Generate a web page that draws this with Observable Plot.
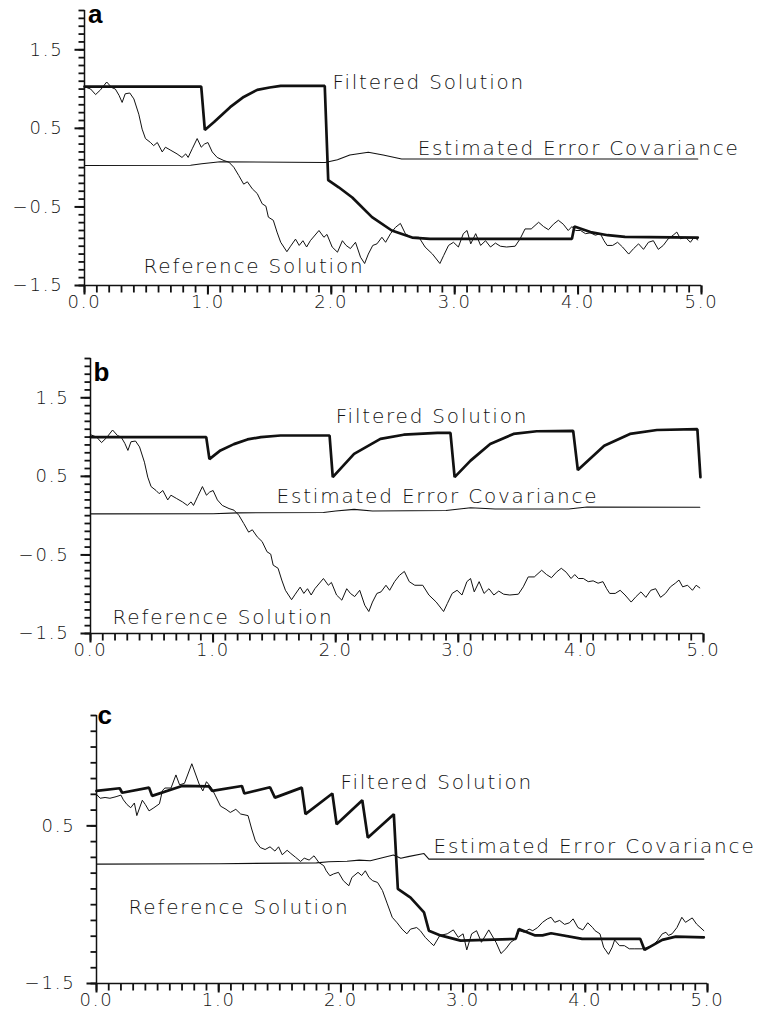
<!DOCTYPE html>
<html>
<head>
<meta charset="utf-8">
<script src="https://cdn.jsdelivr.net/npm/d3@7"></script>
<script src="https://cdn.jsdelivr.net/npm/@observablehq/plot@0.6"></script>
<style>
  html, body { margin: 0; padding: 0; background: #fff; }
  #page { position: relative; width: 759px; height: 1016px; }
  .panel { position: absolute; left: 0; }
  .panel svg { font-family: "DejaVu Sans", sans-serif; font-weight: 200; letter-spacing: 1.8px; }
</style>
</head>
<body>
<div id="page">
  <div class="panel" id="pa" style="top:0px"></div>
  <div class="panel" id="pb" style="top:348px"></div>
  <div class="panel" id="pc" style="top:705px"></div>
</div>
<script>
// Reference solution shared by panels a and b: [t, value]
const referenceAB = [
  [0,1.03],[0.05,1.0],[0.09,0.93],[0.13,0.99],[0.18,1.09],[0.22,1.02],[0.25,1.0],[0.28,0.92],
  [0.305,0.83],[0.33,0.94],[0.367,0.95],[0.40,0.875],[0.44,0.68],[0.467,0.49],[0.494,0.37],
  [0.535,0.32],[0.56,0.28],[0.59,0.32],[0.63,0.2],[0.656,0.26],[0.70,0.22],[0.75,0.175],
  [0.79,0.13],[0.82,0.175],[0.84,0.13],[0.873,0.24],[0.913,0.37],[0.946,0.26],[0.972,0.30],
  [1.0,0.32],[1.035,0.2],[1.075,0.13],[1.13,0.09],[1.17,0.07],[1.21,0.005],[1.25,-0.10],
  [1.29,-0.21],[1.32,-0.18],[1.36,-0.27],[1.40,-0.33],[1.44,-0.46],[1.47,-0.49],[1.49,-0.63],
  [1.53,-0.67],[1.56,-0.82],[1.59,-0.95],[1.64,-1.07],[1.67,-1.0],[1.71,-0.91],[1.74,-0.99],
  [1.77,-0.93],[1.80,-1.01],[1.83,-0.93],[1.90,-0.80],[1.94,-0.886],[1.965,-0.85],[2.007,-1.01],
  [2.05,-1.076],[2.09,-0.93],[2.12,-0.99],[2.155,-1.03],[2.196,-0.95],[2.237,-1.14],[2.27,-1.22],
  [2.30,-1.10],[2.336,-0.99],[2.37,-0.97],[2.41,-0.886],[2.44,-0.95],[2.48,-0.84],[2.52,-0.76],
  [2.56,-0.71],[2.60,-0.84],[2.645,-0.886],[2.71,-0.886],[2.76,-1.01],[2.82,-1.10],[2.88,-1.22],
  [2.91,-1.12],[2.95,-0.99],[2.99,-0.95],[3.03,-1.01],[3.07,-0.84],[3.10,-0.80],[3.13,-0.97],
  [3.17,-0.84],[3.21,-0.99],[3.25,-0.93],[3.29,-1.01],[3.33,-0.96],[3.37,-1.0],[3.42,-1.01],
  [3.49,-1.0],[3.53,-0.906],[3.57,-0.78],[3.62,-0.78],[3.68,-0.695],[3.72,-0.75],[3.76,-0.79],
  [3.80,-0.72],[3.84,-0.67],[3.88,-0.72],[3.92,-0.80],[3.95,-0.75],[3.98,-0.80],[4.02,-0.80],
  [4.06,-0.84],[4.10,-0.83],[4.14,-0.86],[4.18,-0.84],[4.21,-0.93],[4.235,-0.99],[4.28,-0.99],
  [4.32,-0.95],[4.36,-1.01],[4.41,-1.10],[4.45,-1.03],[4.49,-0.97],[4.53,-1.04],[4.57,-0.95],
  [4.61,-0.93],[4.65,-1.04],[4.69,-0.99],[4.73,-0.906],[4.77,-0.86],[4.80,-0.82],[4.83,-0.906],
  [4.87,-0.886],[4.91,-0.95],[4.94,-0.886],[4.97,-0.92]
];

const filteredA = [
  [0,1.03],[0.946,1.03],[0.975,0.48],[1.05,0.58],[1.18,0.77],[1.29,0.90],[1.40,0.99],[1.50,1.02],
  [1.59,1.04],[1.947,1.04],[1.975,-0.16],[2.06,-0.25],[2.17,-0.38],[2.33,-0.63],[2.49,-0.80],
  [2.655,-0.89],[2.8,-0.906],[3.95,-0.906],[3.97,-0.75],[4.10,-0.82],[4.24,-0.86],[4.38,-0.88],
  [4.97,-0.89]
];
const covarianceA = [
  [0,0.027],[0.86,0.03],[0.95,0.05],[1.10,0.075],[1.95,0.065],[2.05,0.10],[2.15,0.16],[2.30,0.196],
  [2.42,0.16],[2.57,0.11],[2.7,0.11],[4.97,0.11]
];

const filteredB = [
  [0,1.0],[0.944,1.0],[0.97,0.72],[1.06,0.83],[1.17,0.91],[1.28,0.97],[1.39,1.0],[1.55,1.02],
  [1.95,1.02],[1.976,0.49],[2.15,0.786],[2.365,0.977],[2.555,1.03],[2.83,1.053],[2.936,1.053],
  [2.97,0.49],[3.10,0.70],[3.26,0.913],[3.45,1.04],[3.64,1.074],[3.937,1.08],[3.975,0.58],
  [4.19,0.89],[4.40,1.04],[4.62,1.09],[4.95,1.10],[4.975,0.49]
];
const covarianceB = [
  [0,0.023],[1.0,0.025],[1.2,0.035],[1.9,0.04],[2.0,0.06],[2.15,0.08],[2.3,0.06],[2.9,0.065],
  [3.1,0.10],[3.3,0.085],[3.9,0.085],[4.05,0.11],[4.97,0.107]
];

const referenceC = [
  [0,0.90],[0.03,0.85],[0.07,0.86],[0.11,0.85],[0.16,0.87],[0.20,0.89],[0.22,0.83],[0.25,0.77],
  [0.28,0.73],[0.31,0.79],[0.33,0.63],[0.375,0.825],[0.40,0.77],[0.43,0.69],[0.47,0.73],
  [0.515,0.78],[0.54,0.95],[0.56,0.98],[0.61,0.98],[0.65,1.146],[0.68,1.02],[0.72,1.04],
  [0.78,1.288],[0.84,1.03],[0.87,0.943],[0.90,1.06],[0.94,0.985],[0.974,0.88],[1.015,0.75],
  [1.06,0.71],[1.095,0.67],[1.14,0.71],[1.18,0.65],[1.24,0.63],[1.27,0.46],[1.30,0.31],
  [1.34,0.225],[1.38,0.20],[1.42,0.234],[1.46,0.18],[1.49,0.234],[1.52,0.133],[1.56,0.19],
  [1.59,0.15],[1.63,0.10],[1.67,0.048],[1.70,0.09],[1.74,0.066],[1.78,0.12],[1.82,0.035],
  [1.86,-0.006],[1.88,-0.07],[1.91,-0.133],[1.94,-0.11],[1.98,-0.09],[2.02,-0.196],[2.065,-0.26],
  [2.09,-0.155],[2.14,-0.09],[2.17,-0.13],[2.20,-0.07],[2.23,-0.155],[2.26,-0.196],[2.30,-0.218],
  [2.34,-0.32],[2.38,-0.49],[2.42,-0.66],[2.46,-0.73],[2.50,-0.81],[2.54,-0.87],[2.57,-0.81],
  [2.62,-0.79],[2.65,-0.83],[2.69,-0.914],[2.73,-0.977],[2.76,-1.02],[2.81,-0.89],[2.87,-0.87],
  [2.92,-0.82],[2.96,-0.914],[3.00,-0.87],[3.03,-1.074],[3.07,-0.87],[3.11,-0.83],[3.15,-0.977],
  [3.21,-0.82],[3.27,-0.98],[3.31,-1.12],[3.35,-1.06],[3.39,-0.977],[3.43,-0.934],[3.46,-0.83],
  [3.50,-0.85],[3.54,-0.81],[3.57,-0.83],[3.61,-0.79],[3.65,-0.724],[3.69,-0.68],[3.72,-0.66],
  [3.75,-0.724],[3.79,-0.70],[3.83,-0.75],[3.87,-0.73],[3.90,-0.68],[3.94,-0.79],[3.98,-0.82],
  [4.02,-0.73],[4.06,-0.79],[4.08,-0.83],[4.12,-0.87],[4.15,-1.04],[4.19,-1.13],[4.22,-1.04],
  [4.24,-0.947],[4.28,-1.02],[4.32,-1.02],[4.36,-1.06],[4.40,-1.06],[4.465,-1.06],[4.49,-1.05],
  [4.55,-1.02],[4.59,-0.956],[4.63,-0.87],[4.66,-0.85],[4.68,-0.89],[4.71,-0.87],[4.75,-0.79],
  [4.79,-0.66],[4.82,-0.724],[4.875,-0.668],[4.91,-0.745],[4.97,-0.83]
];
const filteredC = [
  [0,0.943],[0.19,0.977],[0.21,0.92],[0.43,0.985],[0.455,0.88],[0.70,1.006],[0.92,1.0],
  [0.947,0.943],[1.19,1.006],[1.21,0.91],[1.42,0.99],[1.46,0.858],[1.68,0.985],[1.71,0.648],
  [1.93,0.91],[1.965,0.52],[2.175,0.825],[2.22,0.35],[2.433,0.648],[2.466,-0.30],[2.57,-0.41],
  [2.68,-0.597],[2.72,-0.83],[2.815,-0.89],[2.98,-0.956],[3.43,-0.934],[3.456,-0.81],[3.59,-0.89],
  [3.65,-0.89],[3.72,-0.863],[3.975,-0.934],[4.45,-0.934],[4.485,-1.074],[4.63,-0.947],
  [4.74,-0.905],[4.97,-0.914]
];
const covarianceC = [
  [0,0.015],[1.0,0.02],[1.8,0.03],[1.9,0.044],[2.05,0.05],[2.15,0.065],[2.24,0.057],[2.43,0.13],
  [2.49,0.09],[2.55,0.11],[2.68,0.149],[2.72,0.078],[4.97,0.078]
];

// Axis labels and annotation texts
const xTickValues = [0, 1, 2, 3, 4, 5];
const yTickValuesAB = [-1.5, -0.5, 0.5, 1.5];
const yTickValuesC = [-1.5, 0.5];
const seriesNames = ["Filtered Solution", "Estimated Error Covariance", "Reference Solution"];
const panelLetters = ["a", "b", "c"];

const fmt = d3.format(".1f");
const xMinor = d3.range(0, 51).map(i => i / 10);

// Tick marks: short links hanging below the time axis and left of the value axis.
function tickMarks({yMin, perX, perY, yMinor, yMajor, ink}) {
  const xt = [[xMinor, 7, 1.8], [xTickValues, 9, 2]];
  const yt = [[yMinor, 6, 1.8], [yMajor, 10, 2]];
  return [
    ...xt.map(([v, len, w]) => Plot.link(v, {x1: d => d, x2: d => d, y1: yMin, y2: yMin - len * perY,
      stroke: ink, strokeWidth: w})),
    ...yt.map(([v, len, w]) => Plot.link(v, {x1: 0, x2: -len * perX, y1: d => d, y2: d => d,
      stroke: ink, strokeWidth: w}))
  ];
}

function panel({letter, letterAt, reference, filtered, covariance, yTop, yMinor, yMajor,
                labelAt, left, right, plotHeight}) {
  const bottom = 34;
  const width = 759;
  const yMin = -1.5;
  const padX = 11, padY = 10;         // room kept inside the frame for the tick marks
  const perX = 5 / (width - left - right);
  const perY = (yTop - yMin) / plotHeight;
  const x0 = -padX * perX;
  const y0 = yMin - padY * perY;
  const names = seriesNames.map((name, i) => ({name, x: labelAt[i][0], y: labelAt[i][1]}));
  const ink = "#111";
  return Plot.plot({
    width,
    height: 10 + plotHeight + bottom,
    marginTop: 10,
    marginBottom: bottom - padY,
    marginLeft: left - padX,
    marginRight: right,
    x: {domain: [x0, 5], label: null},
    y: {domain: [y0, yTop], label: null},
    style: {background: "#fff", color: ink, overflow: "visible"},
    marks: [
      Plot.axisX({ticks: xTickValues, tickSize: 0, tickPadding: 0, tickFormat: fmt, fontSize: 18, label: null}),
      Plot.axisY({ticks: yMajor, tickSize: 0, tickPadding: 21 - padX, tickFormat: fmt, fontSize: 18, label: null}),
      Plot.line(covariance, {x: d => d[0], y: d => d[1], stroke: ink, strokeWidth: 1.1}),
      Plot.line(reference, {x: d => d[0], y: d => d[1], stroke: ink, strokeWidth: 1}),
      Plot.line(filtered, {x: d => d[0], y: d => d[1], stroke: ink, strokeWidth: 2.7,
                           strokeLinejoin: "miter"}),
      ...tickMarks({yMin, perX, perY, yMinor, yMajor, ink}),
      Plot.ruleX([0], {y1: yMin, y2: yTop, stroke: ink, strokeWidth: 1.5}),
      Plot.ruleY([yMin], {x1: 0, x2: 5, stroke: ink, strokeWidth: 1.5}),
      Plot.text(names, {x: "x", y: "y", text: "name", textAnchor: "start", lineAnchor: "bottom",
                        fontSize: 20, fill: ink}),
      Plot.text([letter], {x: letterAt[0], y: letterAt[1], text: d => d, textAnchor: "start",
                           lineAnchor: "bottom", fontSize: 26, fontWeight: "bold",
                           fontFamily: "Liberation Sans", fill: "#000"})
    ]
  });
}

const yMinorAB = d3.range(0, 36).map(i => -1.5 + i * 0.1);
const yMinorC = d3.range(0, 18).map(i => -1.5 + i * 0.2);

document.getElementById("pa").append(panel({
  letter: panelLetters[0], letterAt: [0.028, 1.84],
  reference: referenceAB, filtered: filteredA, covariance: covarianceA,
  yTop: 2.0, yMinor: yMinorAB, yMajor: yTickValuesAB,
  labelAt: [[2.01, 1.006], [2.70, 0.167], [0.478, -1.335]],
  left: 84, right: 58, plotHeight: 275
}));

document.getElementById("pb").append(panel({
  letter: panelLetters[1], letterAt: [0.024, 1.72],
  reference: referenceAB, filtered: filteredB, covariance: covarianceB,
  yTop: 2.0, yMinor: yMinorAB, yMajor: yTickValuesAB,
  labelAt: [[2.0, 1.184], [1.517, 0.167], [0.18, -1.373]],
  left: 90, right: 56, plotHeight: 275
}));

document.getElementById("pc").append(panel({
  letter: panelLetters[2], letterAt: [0.008, 1.79],
  reference: referenceC, filtered: filteredC, covariance: covarianceC,
  yTop: 1.9, yMinor: yMinorC, yMajor: yTickValuesC,
  labelAt: [[1.997, 0.968], [2.758, 0.158], [0.262, -0.614]],
  left: 96, right: 52, plotHeight: 268
}));
</script>
</body>
</html>
